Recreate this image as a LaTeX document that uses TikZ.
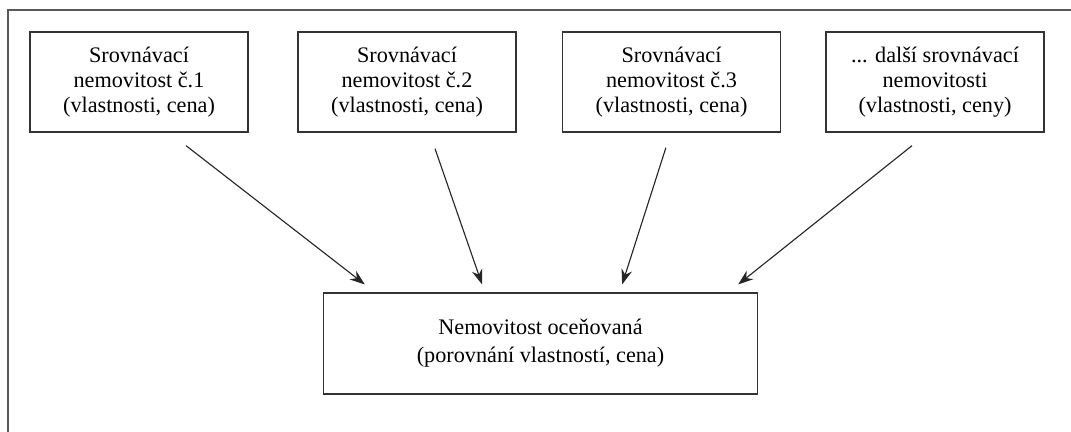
\documentclass[tikz,border=0pt]{standalone}
\usepackage{fontspec}
\setmainfont{Liberation Serif}
\usetikzlibrary{arrows.meta}

\tikzset{
  srovbox/.style={draw=black!80, line width=0.9pt, minimum width=5.45cm, minimum height=2.5cm,
    align=center, font=\fontsize{15.8}{17.9}\selectfont},
  hlavbox/.style={draw=black!80, line width=0.9pt, minimum width=10.83cm, minimum height=2.52cm,
    align=center, font=\fontsize{15.8}{19.8}\selectfont},
  sipka/.style={-{Stealth[length=0.38cm,width=0.27cm]}, line width=0.8pt, black!85}
}

\begin{document}
\begin{tikzpicture}[x=0.025cm, y=-0.025cm]
\useasboundingbox (0,0) rectangle (1071,432);
% ramecek (jen levy a horni okraj)
\draw[black!65, line width=0.8pt] (8,432) -- (8,10) -- (1071,10);
%
% srovnavaci nemovitosti
\node[srovbox] (s1) at (139,82) {Srovnávací\\nemovitost č.1\\(vlastnosti, cena)};
\node[srovbox] (s2) at (407,82) {Srovnávací\\nemovitost č.2\\(vlastnosti, cena)};
\node[srovbox] (s3) at (671.5,82) {Srovnávací\\nemovitost č.3\\(vlastnosti, cena)};
\node[srovbox] (s4) at (935,82) {... další srovnávací\\nemovitosti\\(vlastnosti, ceny)};
%
% ocenovana nemovitost
\node[hlavbox] (oc) at (540.5,343.5) {Nemovitost oceňovaná\\(porovnání vlastností, cena)};
%
\draw[sipka] ([xshift=1.175cm,yshift=-0.325cm]s1.south) -- ([xshift=-4.39cm,yshift=0.2cm]oc.north);
\draw[sipka] ([xshift=0.7cm,yshift=-0.4cm]s2.south) -- ([xshift=-1.46cm,yshift=0.2cm]oc.north);
\draw[sipka] ([xshift=-0.14cm,yshift=-0.375cm]s3.south) -- ([xshift=2.04cm,yshift=0.2cm]oc.north);
\draw[sipka] ([xshift=-0.575cm,yshift=-0.325cm]s4.south) -- ([xshift=4.94cm,yshift=0.2cm]oc.north);
\end{tikzpicture}
\end{document}
